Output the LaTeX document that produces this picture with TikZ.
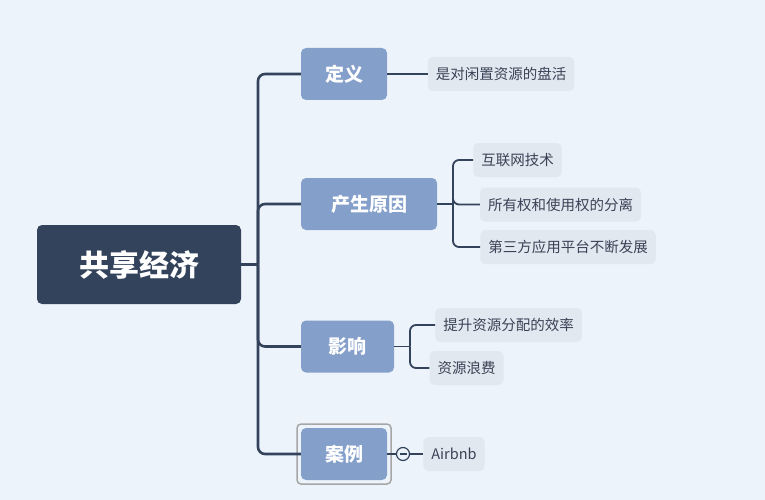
\documentclass[tikz,border=0pt]{standalone}
\usepackage{fontspec}
\setmainfont{Noto Sans CJK SC}
\usetikzlibrary{positioning}
\definecolor{bgblue}{HTML}{EDF3FA}
\definecolor{rootcol}{HTML}{34435C}
\definecolor{branchcol}{HTML}{849FC9}
\definecolor{leafcol}{HTML}{E2E8F0}
\definecolor{linecol}{HTML}{34435C}
\definecolor{leaftext}{HTML}{3A4356}
\begin{document}
\begin{tikzpicture}[x=1pt, y=-1pt,
    root node/.style={fill=rootcol, rounded corners=5pt, text=white, font=\fontsize{30}{34}\selectfont\bfseries, minimum width=204pt, minimum height=79pt},
    branch node/.style={fill=branchcol, rounded corners=5pt, text=white, font=\fontsize{19}{22}\selectfont\bfseries, minimum height=52pt, inner xsep=14pt},
    leaf node/.style={fill=leafcol, rounded corners=5pt, text=leaftext, font=\fontsize{14.5}{17}\selectfont, minimum height=34pt, inner xsep=8pt},
    link/.style={draw=linecol, line width=2.6pt, rounded corners=7pt},
    sublink/.style={draw=linecol, line width=1.8pt, rounded corners=6pt}]

    \fill[bgblue] (0,0) rectangle (765,500);
    \useasboundingbox (0,0) rectangle (765,500);

    % Root and main branches
    \node[root node] (root) at (139,264.5) {共享经济};
    \node[branch node, minimum width=86pt] (def) at (344,74) {定义};
    \node[branch node, minimum width=136pt] (cause) at (369,204) {产生原因};
    \node[branch node, minimum width=93pt] (effect) at (347.5,346.5) {影响};
    \node[branch node, minimum width=86pt] (case) at (344,454) {案例};
    \draw[gray!70, line width=1.5pt, rounded corners=4pt] (297,424) rectangle (391,484);

    % Leaves
    \node[leaf node] (def1) at (501,74) {是对闲置资源的盘活};
    \node[leaf node] (cause1) at (517.5,160) {互联网技术};
    \node[leaf node] (cause2) at (560.5,204.5) {所有权和使用权的分离};
    \node[leaf node] (cause3) at (568,247) {第三方应用平台不断发展};
    \node[leaf node] (effect1) at (508.5,325) {提升资源分配的效率};
    \node[leaf node] (effect2) at (466.5,368) {资源浪费};
    \node[leaf node] (case1) at (454,454) {Airbnb};

    % Connectors from root
    \coordinate (trunk) at (258,264.5);
    \draw[link] (root.east) -- (trunk);
    \foreach \b in {def, cause, effect, case}
        \draw[link] (trunk) |- (\b.west);

    % Connectors to leaves
    \draw[sublink] (def.east) -- (def1.west);
    \coordinate (ctrunk) at (453,204);
    \draw[sublink] (cause.east) -- (ctrunk);
    \foreach \l in {cause1, cause2, cause3}
        \draw[sublink] (ctrunk) |- (\l.west);
    \coordinate (etrunk) at (410,346.5);
    \draw[sublink] (effect.east) -- (etrunk);
    \foreach \l in {effect1, effect2}
        \draw[sublink] (etrunk) |- (\l.west);

    % Collapse marker on case
    \node[circle, draw=linecol, line width=1.2pt, fill=bgblue, minimum size=13pt, inner sep=0pt] (fold) at (403,454) {};
    \draw[sublink] (case.east) -- (fold.west);
    \draw[sublink] (fold.east) -- (case1.west);
    \draw[linecol, line width=1.2pt] ([xshift=-3.5pt]fold.center) -- ([xshift=3.5pt]fold.center);
\end{tikzpicture}
\end{document}
